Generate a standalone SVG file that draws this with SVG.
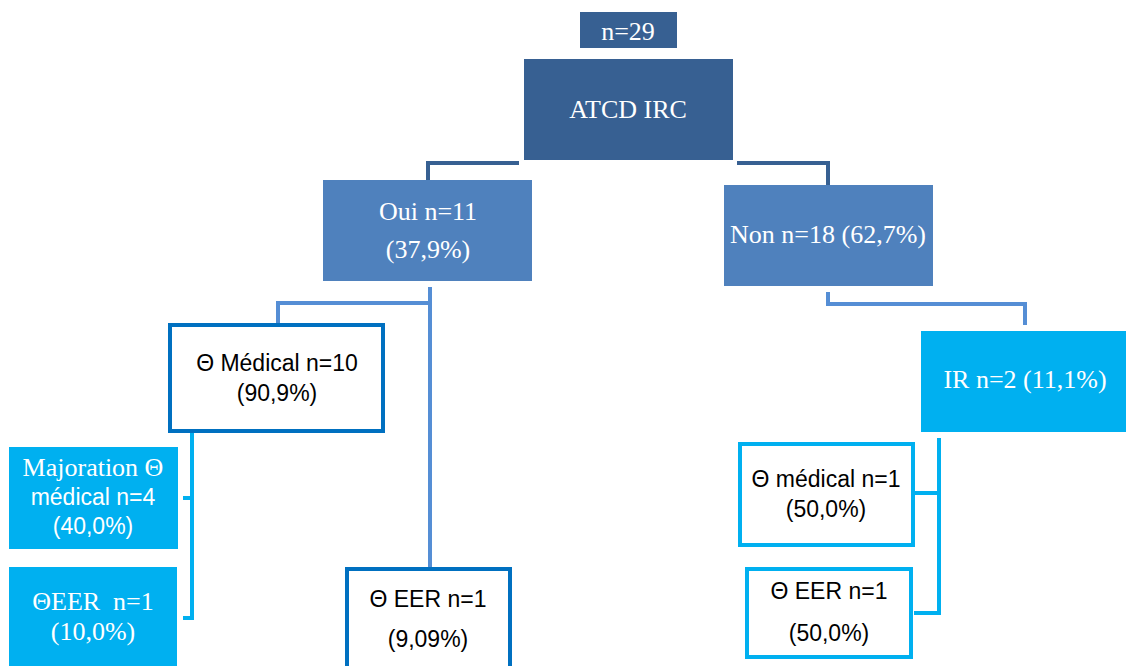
<svg xmlns="http://www.w3.org/2000/svg" width="1126" height="666" viewBox="0 0 1126 666">
<style>
.dark{fill:#376092}
.mid{fill:#4f81bd}
.cyan{fill:#00b0f0}
.ob{fill:#fff;stroke:#0070c0;stroke-width:4}
.oc{fill:#fff;stroke:#00b0f0;stroke-width:4}
.serif{font-family:"Liberation Serif","Times New Roman",serif;font-size:26px;fill:#fff;text-anchor:middle}
.sans{font-family:"Liberation Sans",Arial,sans-serif;font-size:23px;fill:#000;text-anchor:middle}
.sansw{font-family:"Liberation Sans",Arial,sans-serif;font-size:23px;fill:#fff;text-anchor:middle}
.c1{fill:none;stroke:#376092;stroke-width:4}
.c2{fill:none;stroke:#558ed5;stroke-width:4}
.c3{fill:none;stroke:#00b0f0;stroke-width:4}
</style>
<rect width="1126" height="666" fill="#fff"/>
<g id="connectors">
<path class="c1" d="M519,163 H428 V180"/>
<path class="c1" d="M737,163 H828 V185"/>
<path class="c2" d="M430,287 V567"/>
<path class="c2" d="M430,303 H278 V323"/>
<path class="c2" d="M828,292 V304 H1025 V325"/>
<path class="c3" d="M192,433 V618 H183 M192,498 H183"/>
<path class="c3" d="M939,438 V613 H914 M939,493 H915"/>
</g>
<g id="n29"><rect class="dark" x="580" y="12" width="97" height="36"/><text class="serif" x="628" y="40">n=29</text></g>
<g id="atcd"><rect class="dark" x="524" y="59" width="209" height="101"/><text class="serif" x="628" y="118">ATCD IRC</text></g>
<g id="oui"><rect class="mid" x="323" y="180" width="209" height="101"/><text class="serif" x="428" y="220">Oui n=11</text><text class="serif" x="428" y="258">(37,9%)</text></g>
<g id="non"><rect class="mid" x="724" y="185" width="209" height="101"/><text class="serif" x="828" y="243">Non n=18 (62,7%)</text></g>
<g id="medical"><rect class="ob" x="170" y="325" width="213" height="106"/><text class="sans" x="277" y="371">Θ Médical n=10</text><text class="sans" x="277" y="401">(90,9%)</text></g>
<g id="majoration"><rect class="cyan" x="9" y="447" width="169" height="102"/><text class="serif" x="93" y="476">Majoration Θ</text><text class="sansw" x="93" y="505">médical n=4</text><text class="sansw" x="93" y="534">(40,0%)</text></g>
<g id="eer-left"><rect class="cyan" x="9" y="567" width="168" height="110"/><text class="serif" x="93" y="610" xml:space="preserve">ΘEER  n=1</text><text class="serif" x="93" y="640">(10,0%)</text></g>
<g id="eer-mid"><rect class="ob" x="347" y="569" width="163" height="110"/><text class="sans" x="428" y="607">Θ EER n=1</text><text class="sans" x="428" y="647">(9,09%)</text></g>
<g id="ir"><rect class="cyan" x="921" y="331" width="215" height="101"/><text class="serif" x="1025" y="388">IR n=2 (11,1%)</text></g>
<g id="medical-right"><rect class="oc" x="740" y="444" width="173" height="101"/><text class="sans" x="826" y="487">Θ médical n=1</text><text class="sans" x="826" y="517">(50,0%)</text></g>
<g id="eer-right"><rect class="oc" x="747" y="569" width="164" height="88"/><text class="sans" x="829" y="599">Θ EER n=1</text><text class="sans" x="829" y="641">(50,0%)</text></g>
</svg>
